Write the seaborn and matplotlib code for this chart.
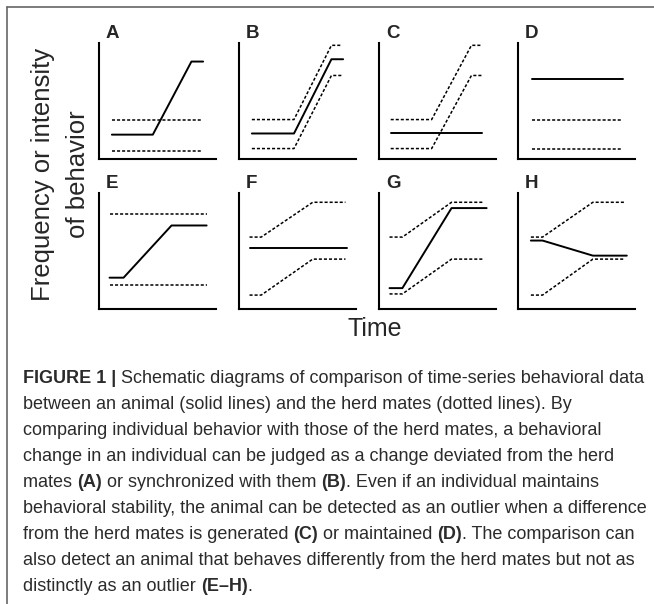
import matplotlib
matplotlib.use('Agg')
import matplotlib.pyplot as plt
from matplotlib.lines import Line2D
from matplotlib.font_manager import FontProperties
import seaborn as sns

# solid line = the individual animal, dotted lines = herd mates (upper / lower band)
a_ind_t = [0.11, 0.46, 0.79, 0.89]
a_ind = [0.21, 0.21, 0.84, 0.84]
a_herd_t = [0.11, 0.88]
a_herd_hi = [0.34, 0.34]
a_herd_lo = [0.07, 0.07]

b_ind_t = [0.11, 0.47, 0.79, 0.89]
b_ind = [0.22, 0.22, 0.86, 0.86]
b_herd_t = [0.11, 0.47, 0.79, 0.88]
b_herd_hi = [0.34, 0.34, 0.98, 0.98]
b_herd_lo = [0.09, 0.09, 0.72, 0.72]

c_ind_t = [0.10, 0.88]
c_ind = [0.22, 0.22]
c_herd_t = [0.10, 0.45, 0.79, 0.88]
c_herd_hi = [0.34, 0.34, 0.98, 0.98]
c_herd_lo = [0.09, 0.09, 0.72, 0.72]

d_ind_t = [0.12, 0.90]
d_ind = [0.69, 0.69]
d_herd_t = [0.12, 0.88]
d_herd_hi = [0.34, 0.34]
d_herd_lo = [0.09, 0.09]

e_ind_t = [0.09, 0.21, 0.62, 0.92]
e_ind = [0.27, 0.27, 0.72, 0.72]
e_herd_t = [0.09, 0.92]
e_herd_hi = [0.82, 0.82]
e_herd_lo = [0.21, 0.21]

f_ind_t = [0.09, 0.92]
f_ind = [0.53, 0.53]
f_herd_t = [0.09, 0.19, 0.63, 0.91]
f_herd_hi = [0.62, 0.62, 0.92, 0.92]
f_herd_lo = [0.12, 0.12, 0.43, 0.43]

g_ind_t = [0.09, 0.20, 0.62, 0.92]
g_ind = [0.18, 0.18, 0.87, 0.87]
g_herd_t = [0.09, 0.20, 0.62, 0.90]
g_herd_hi = [0.62, 0.62, 0.92, 0.92]
g_herd_lo = [0.13, 0.13, 0.43, 0.43]

h_ind_t = [0.11, 0.21, 0.64, 0.93]
h_ind = [0.59, 0.59, 0.46, 0.46]
h_herd_t = [0.11, 0.21, 0.64, 0.91]
h_herd_hi = [0.62, 0.62, 0.92, 0.92]
h_herd_lo = [0.12, 0.12, 0.43, 0.43]

panels = [
    ('A', a_ind_t, a_ind, a_herd_t, a_herd_hi, a_herd_lo),
    ('B', b_ind_t, b_ind, b_herd_t, b_herd_hi, b_herd_lo),
    ('C', c_ind_t, c_ind, c_herd_t, c_herd_hi, c_herd_lo),
    ('D', d_ind_t, d_ind, d_herd_t, d_herd_hi, d_herd_lo),
    ('E', e_ind_t, e_ind, e_herd_t, e_herd_hi, e_herd_lo),
    ('F', f_ind_t, f_ind, f_herd_t, f_herd_hi, f_herd_lo),
    ('G', g_ind_t, g_ind, g_herd_t, g_herd_hi, g_herd_lo),
    ('H', h_ind_t, h_ind, h_herd_t, h_herd_hi, h_herd_lo),
]

y_label_lines = ['Frequency or intensity', 'of behavior']
x_label = 'Time'

# caption, one list of (text, bold) pieces per printed line
caption = [
    [('FIGURE 1 |', True), (' Schematic diagrams of comparison of time-series behavioral data', False)],
    [('between an animal (solid lines) and the herd mates (dotted lines). By', False)],
    [('comparing individual behavior with those of the herd mates, a behavioral', False)],
    [('change in an individual can be judged as a change deviated from the herd', False)],
    [('mates ', False), ('(A)', True), (' or synchronized with them ', False), ('(B)', True),
     ('. Even if an individual maintains', False)],
    [('behavioral stability, the animal can be detected as an outlier when a difference', False)],
    [('from the herd mates is generated ', False), ('(C)', True), (' or maintained ', False), ('(D)', True),
     ('. The comparison can', False)],
    [('also detect an animal that behaves differently from the herd mates but not as', False)],
    [('distinctly as an outlier ', False), ('(E\u2013H)', True), ('.', False)],
]

sns.set_style('white')
plt.rcParams['font.family'] = ['Liberation Sans', 'DejaVu Sans']

W, H = 654, 604
fig = plt.figure(figsize=(W / 100, H / 100), dpi=100)

col_left = [99, 239, 379, 518]
row_top = [43, 193]
ax_w, ax_h = 117, 116

for i, (letter, ind_t, ind, herd_t, herd_hi, herd_lo) in enumerate(panels):
    left = col_left[i % 4]
    top = row_top[i // 4]
    ax = fig.add_axes([left / W, 1 - (top + ax_h) / H, ax_w / W, ax_h / H])
    for band in (herd_hi, herd_lo):
        sns.lineplot(x=herd_t, y=band, ax=ax, color='black', lw=1.1,
                     linestyle=(0, (2.0, 1.3)), sort=False, estimator=None, clip_on=False)
    sns.lineplot(x=ind_t, y=ind, ax=ax, color='black', lw=1.4,
                 sort=False, estimator=None, clip_on=False)
    ax.set_xlim(0, 1)
    ax.set_ylim(0, 1)
    ax.set_xticks([])
    ax.set_yticks([])
    ax.set_xlabel('')
    ax.set_ylabel('')
    for side in ('top', 'right'):
        ax.spines[side].set_visible(False)
    for side in ('left', 'bottom'):
        ax.spines[side].set_color('black')
        ax.spines[side].set_linewidth(1.5)
    ax.text(0.06, 1.08, letter, transform=ax.transAxes, fontsize=13.5,
            fontweight='bold', ha='left', va='center')

# axis titles
fig.text(43 / W, 1 - 174 / H, y_label_lines[0], rotation=90, fontsize=18.5,
         ha='center', va='center')
fig.text(78 / W, 1 - 174 / H, y_label_lines[1], rotation=90, fontsize=18.5,
         ha='center', va='center')
fig.text(375 / W, 1 - 329 / H, x_label, fontsize=18, ha='center', va='center')

# frame lines (left and top)
fig.add_artist(Line2D([7 / W, 7 / W], [0, 1 - 7 / H], transform=fig.transFigure,
                      color='#666666', lw=1.2))
fig.add_artist(Line2D([7 / W, 1], [1 - 7 / H, 1 - 7 / H], transform=fig.transFigure,
                      color='#666666', lw=1.2))

# caption with bold pieces placed one after another
cap_size = 13.0
renderer = fig.canvas.get_renderer()


def piece_width(s, bold):
    prop = FontProperties(family=['Liberation Sans'], size=cap_size,
                          weight='bold' if bold else 'normal')
    w1, _, _ = renderer.get_text_width_height_descent(s + '.', prop, ismath=False)
    w2, _, _ = renderer.get_text_width_height_descent('.', prop, ismath=False)
    return w1 - w2


base_y = 383
line_gap = 26
for n, pieces in enumerate(caption):
    x = 23
    y = base_y + n * line_gap
    for s, bold in pieces:
        fig.text(x / W, 1 - y / H, s, fontsize=cap_size, color='#2b2b2b',
                 fontweight='bold' if bold else 'normal', ha='left', va='baseline')
        x += piece_width(s, bold)

fig.savefig('out.png', dpi=100)
